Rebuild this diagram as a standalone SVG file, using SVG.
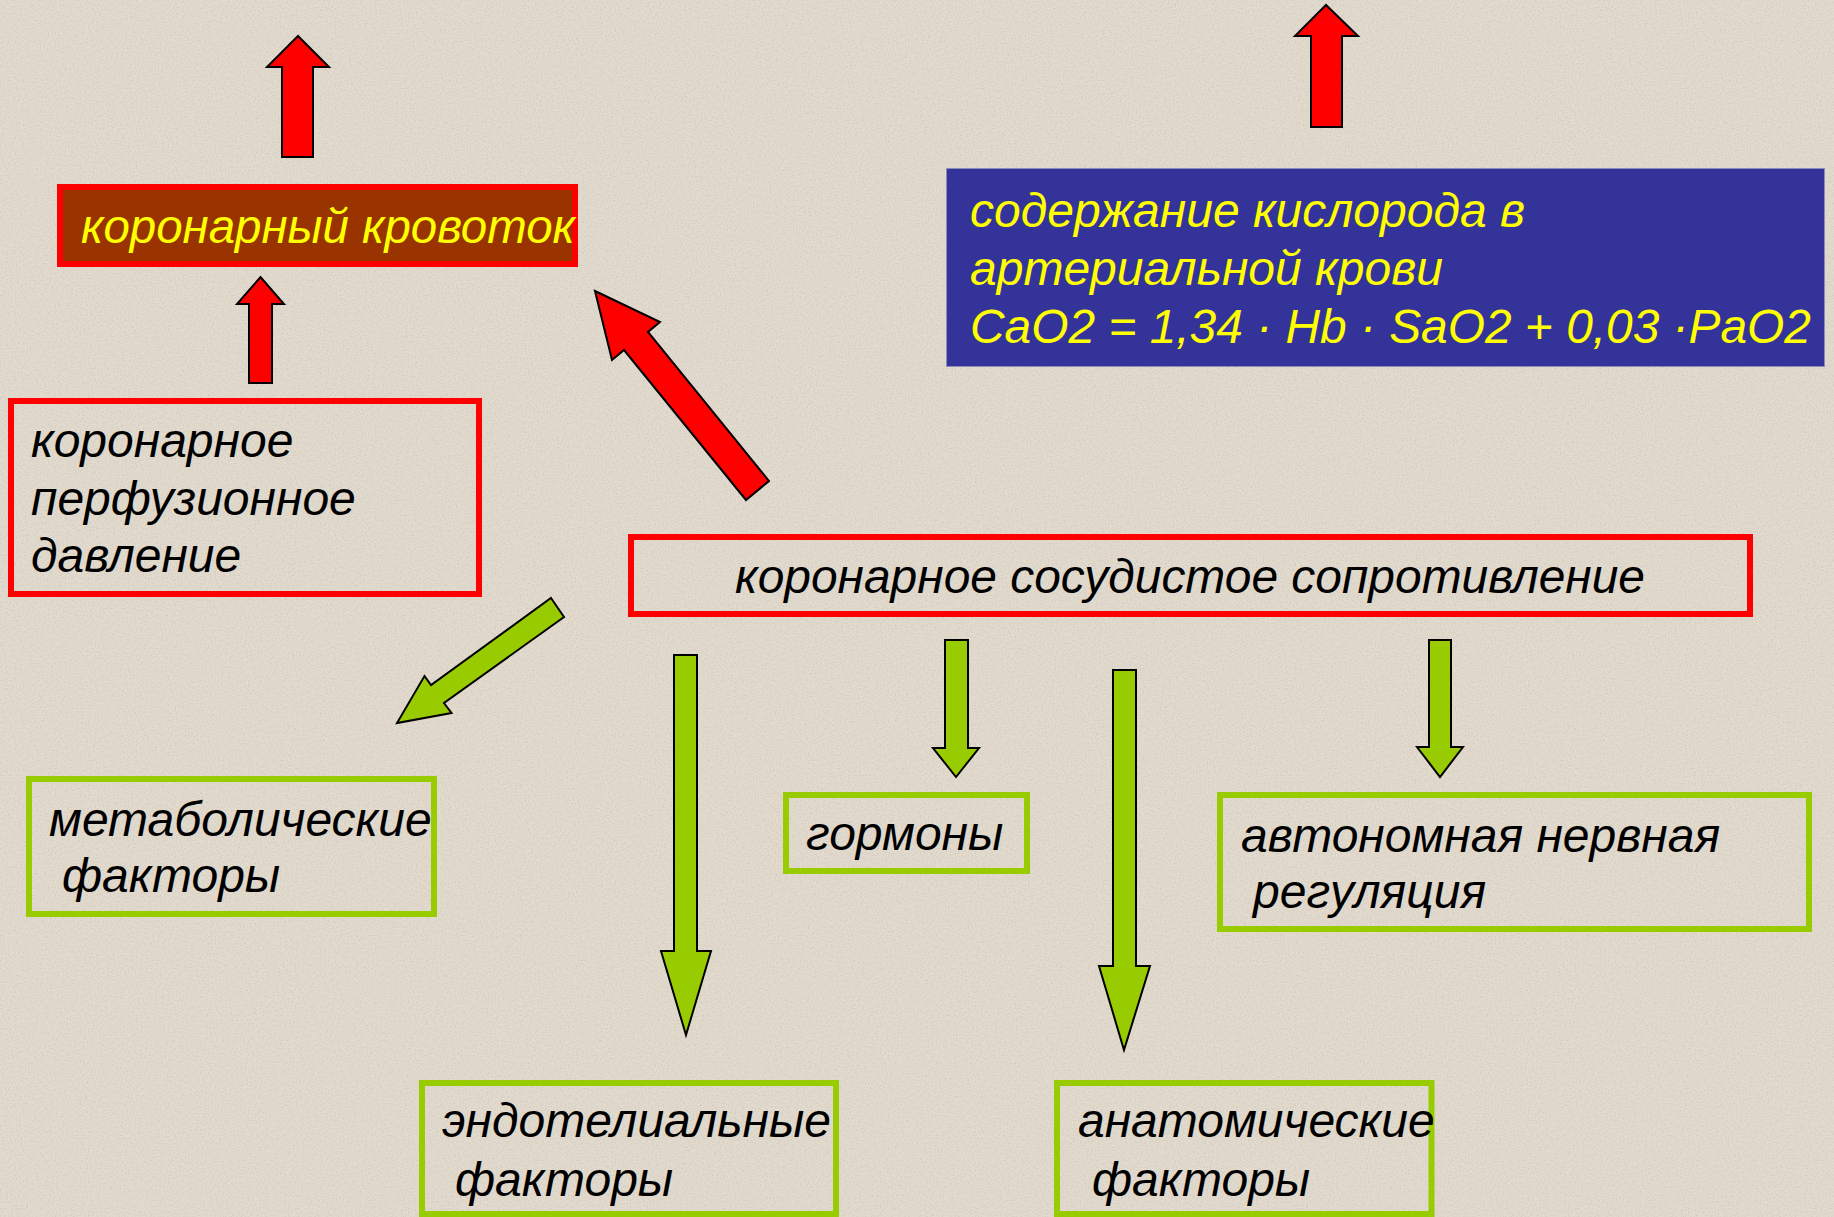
<svg xmlns="http://www.w3.org/2000/svg" width="1834" height="1217" viewBox="0 0 1834 1217">
  <defs>
    <filter id="paper" x="0" y="0" width="100%" height="100%">
      <feTurbulence type="fractalNoise" baseFrequency="0.6" numOctaves="2" seed="7" result="n"/>
      <feColorMatrix in="n" type="matrix" values="0 0 0 0 0.5  0 0 0 0 0.47  0 0 0 0 0.42  0 0 0 -2.4 1.3" result="spk"/>
      <feComposite in="spk" in2="SourceGraphic" operator="in"/>
    </filter>
    <style>
      .t{font-family:"Liberation Sans",Arial,sans-serif;font-style:italic;font-size:48px;fill:#000}
      .y{fill:#ffff00}
      .rbox{fill:none;stroke:#ff0000;stroke-width:6}
      .gbox{fill:none;stroke:#99cc00;stroke-width:6}
      .ra{fill:#ff0000;stroke:#000;stroke-width:2;stroke-linejoin:miter}
      .ga{fill:#99cc00;stroke:#000;stroke-width:2;stroke-linejoin:miter}
    </style>
  </defs>
  <rect width="1834" height="1217" fill="#e2dacd"/>
  <rect width="1834" height="1217" fill="#e2dacd" filter="url(#paper)" opacity="0.45"/>

  <g id="connectors">
    <polygon class="ra" points="282,157 313,157 313,67 329,67 298,36 267,67 282,67"/>
    <polygon class="ra" points="249,383 272,383 272,304 284,304 260.5,277 237,304 249,304"/>
    <polygon class="ra" points="1311,127 1342,127 1342,36 1358,36 1326,5 1295,36 1311,36"/>
    <polygon class="ra" points="595,291 660,322 648,332 769,481 746,500 624,350 612,360"/>
    <polygon class="ga" points="551,598 564,617 444,703 451.5,713 397,723 424.5,676 431,685"/>
    <polygon class="ga" points="674,655 697,655 697,951 711,951 686,1035 661,951 674,951"/>
    <polygon class="ga" points="945,640 968,640 968,748 979,748 956,777 933,748 945,748"/>
    <polygon class="ga" points="1113,670 1136,670 1136,966 1150,966 1124,1050 1099,966 1113,966"/>
    <polygon class="ga" points="1429,640 1451,640 1451,747 1463,747 1440,777 1417,747 1429,747"/>
  </g>

  <g id="node-blood-flow">
    <rect x="60" y="187" width="515" height="77" fill="#993300" stroke="#ff0000" stroke-width="6"/>
    <text class="t y" x="81" y="243" textLength="494" lengthAdjust="spacingAndGlyphs">коронарный кровоток</text>
  </g>

  <g id="node-oxygen">
    <rect x="946.5" y="168.5" width="878" height="198" fill="#333399" stroke="#8c8cb8" stroke-width="1"/>
    <text class="t y" x="970" y="227">содержание кислорода в</text>
    <text class="t y" x="970" y="285">артериальной крови</text>
    <text class="t y" x="970" y="343" textLength="841" lengthAdjust="spacingAndGlyphs">CaO2 = 1,34 · Hb · SaO2 + 0,03 ·PaO2</text>
  </g>

  <g id="node-perfusion">
    <rect class="rbox" x="11" y="401" width="468" height="193"/>
    <text class="t" x="31" y="457">коронарное</text>
    <text class="t" x="31" y="515">перфузионное</text>
    <text class="t" x="31" y="572">давление</text>
  </g>

  <g id="node-resistance">
    <rect class="rbox" x="631" y="537" width="1119" height="77"/>
    <text class="t" x="735" y="593" textLength="910" lengthAdjust="spacingAndGlyphs">коронарное сосудистое сопротивление</text>
  </g>

  <g id="node-metabolic">
    <rect class="gbox" x="29" y="779" width="405" height="135"/>
    <text class="t" x="49" y="836">метаболические</text>
    <text class="t" x="62" y="892">факторы</text>
  </g>

  <g id="node-hormones">
    <rect class="gbox" x="786" y="795" width="241" height="76"/>
    <text class="t" x="806" y="850">гормоны</text>
  </g>

  <g id="node-autonomic">
    <rect class="gbox" x="1220" y="795" width="589" height="134"/>
    <text class="t" x="1241" y="852">автономная нервная</text>
    <text class="t" x="1253" y="908">регуляция</text>
  </g>

  <g id="node-endothelial">
    <rect class="gbox" x="422" y="1083" width="414" height="131"/>
    <text class="t" x="442" y="1137">эндотелиальные</text>
    <text class="t" x="455" y="1196">факторы</text>
  </g>

  <g id="node-anatomical">
    <rect class="gbox" x="1057" y="1083" width="374.5" height="131"/>
    <text class="t" x="1078" y="1137">анатомические</text>
    <text class="t" x="1092" y="1196">факторы</text>
  </g>
</svg>
